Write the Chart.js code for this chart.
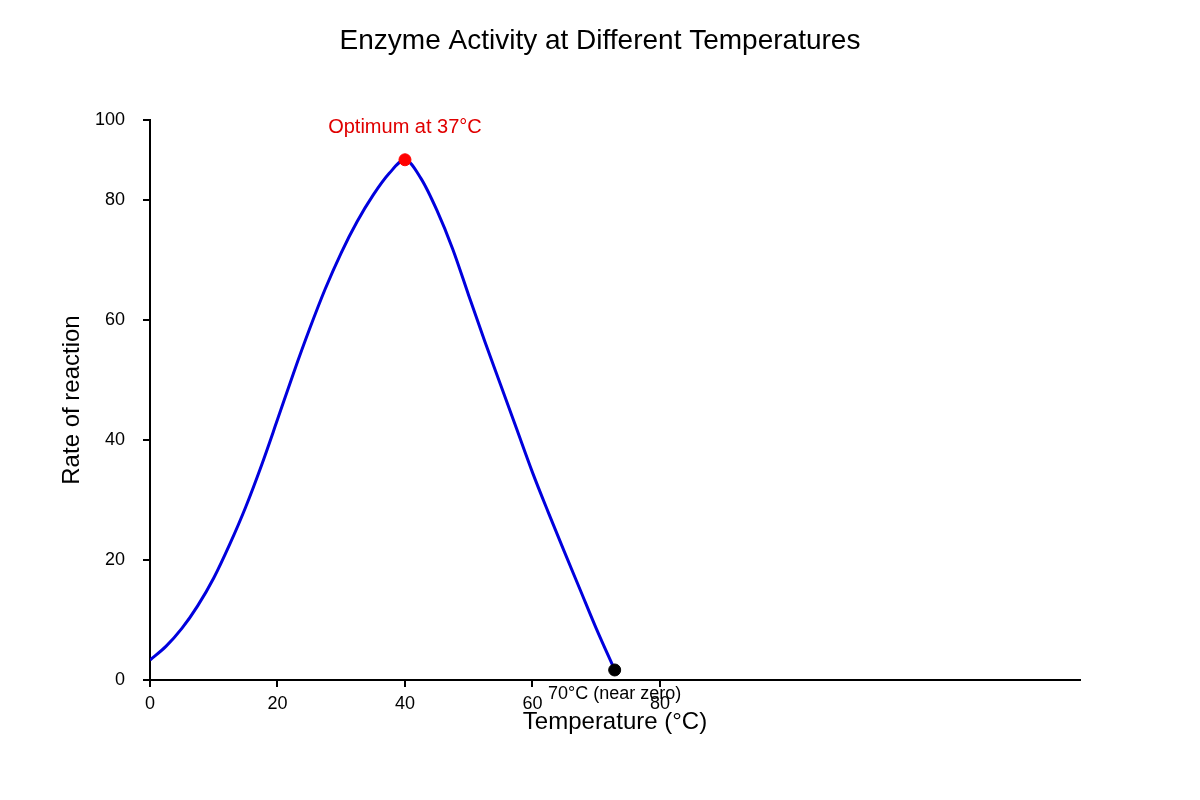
<!DOCTYPE html>
<html>
<head>
<meta charset="utf-8">
<script src="https://cdn.jsdelivr.net/npm/chart.js@4"></script>
<style>
  html, body { margin: 0; padding: 0; background: #fff; }
</style>
</head>
<body>
<canvas id="myChart" width="1200" height="800"></canvas>
<script>
// points, in x-axis units
var temps = [0, 2.5, 5, 7.5, 10, 12.5, 15, 17.5, 20, 22.5, 25, 27.5, 30, 32.5, 35, 37.5, 40,
             42.5, 45, 47.5, 50, 52.5, 55, 57.5, 60, 62.5, 65, 67.5, 70, 72.9];
var rates = [3.33, 5.6, 8.6, 12.4, 17, 22.6, 28.8, 35.8, 43.4, 51.1, 58.4, 65.2, 71.2, 76.4, 80.8, 84.4, 86.7,
             83.6, 78.3, 71.8, 64.1, 56.5, 49.2, 41.9, 34.6, 27.9, 21.4, 15, 8.6, 1.67];
var xTicks = [0, 20, 40, 60, 80];
var yTicks = [0, 20, 40, 60, 80, 93.33];
var yTickLabels = ['0', '20', '40', '60', '80', '100'];
var optimum = {x: 40, y: 86.7, label: 'Optimum at 37°C'};
var endPoint = {x: 72.9, y: 1.67, label: '70°C (near zero)'};
var chartTitle = 'Enzyme Activity at Different Temperatures';

var fontFam = '"Liberation Sans", Arial, sans-serif';
Chart.defaults.font.family = fontFam;
Chart.defaults.color = '#000';

var curve = temps.map(function (t, i) { return {x: t, y: rates[i]}; });

// title centred on the page, plus the two notes beside the marked points
var notes = {
  id: 'notes',
  afterDraw: function (chart) {
    var c = chart.ctx, xs = chart.scales.x, ys = chart.scales.y;
    c.save();
    c.textAlign = 'center';
    c.textBaseline = 'middle';
    c.fillStyle = '#000';
    c.font = '28px ' + fontFam;
    c.fillText(chartTitle, chart.width / 2, 41);
    c.fillStyle = '#e00000';
    c.font = '20px ' + fontFam;
    c.fillText(optimum.label, xs.getPixelForValue(optimum.x), ys.getPixelForValue(optimum.y) - 32);
    c.fillStyle = '#000';
    c.font = '18px ' + fontFam;
    c.fillText(endPoint.label, xs.getPixelForValue(endPoint.x), ys.getPixelForValue(endPoint.y) + 24);
    c.restore();
  }
};

new Chart(document.getElementById('myChart'), {
  type: 'scatter',
  data: {
    datasets: [
      {
        data: curve,
        showLine: true,
        borderColor: '#0000dd',
        borderWidth: 3,
        pointRadius: 0,
        cubicInterpolationMode: 'monotone',
        order: 2
      },
      {
        data: [{x: optimum.x, y: optimum.y}],
        backgroundColor: '#ff0000',
        borderColor: '#ff0000',
        pointRadius: 6,
        order: 1
      },
      {
        data: [{x: endPoint.x, y: endPoint.y}],
        backgroundColor: '#000',
        borderColor: '#000',
        pointRadius: 6,
        order: 1
      }
    ]
  },
  options: {
    responsive: false,
    devicePixelRatio: 1,
    animation: false,
    layout: { padding: { top: 120, right: 120, left: 0, bottom: 0 } },
    plugins: {
      legend: { display: false },
      tooltip: { enabled: false },
      title: { display: false }
    },
    scales: {
      x: {
        type: 'linear',
        min: 0,
        max: 145.9,
        afterBuildTicks: function (s) { s.ticks = xTicks.map(function (v) { return {value: v}; }); },
        afterFit: function (s) { s.height = 120; },
        grid: { drawOnChartArea: false, drawTicks: true, tickLength: 7, color: '#000', lineWidth: 2 },
        border: { color: '#000', width: 2 },
        ticks: { font: { size: 18 }, color: '#000', padding: 6, maxRotation: 0 },
        title: {
          display: true,
          text: 'Temperature (°C)',
          font: { size: 24 },
          color: '#000',
          padding: { top: 0, bottom: 63.6 }
        }
      },
      y: {
        type: 'linear',
        min: 0,
        max: 93.33,
        afterBuildTicks: function (s) { s.ticks = yTicks.map(function (v) { return {value: v}; }); },
        afterFit: function (s) { s.width = 150; },
        grid: { drawOnChartArea: false, drawTicks: true, tickLength: 7, color: '#000', lineWidth: 2 },
        border: { color: '#000', width: 2 },
        ticks: {
          font: { size: 18 },
          color: '#000',
          padding: 18,
          callback: function (v, i) { return yTickLabels[i]; }
        },
        title: {
          display: true,
          text: 'Rate of reaction',
          font: { size: 24 },
          color: '#000',
          padding: { top: 57.6, bottom: 0 }
        }
      }
    }
  },
  plugins: [notes]
});
</script>
</body>
</html>
